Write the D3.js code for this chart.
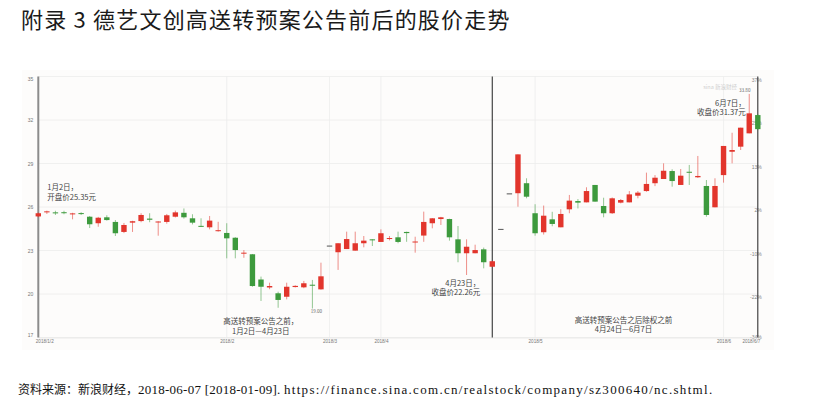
<!DOCTYPE html>
<html>
<head>
<meta charset="utf-8">
<script src="https://cdn.jsdelivr.net/npm/d3@7"></script>
<style>
  body { margin: 0; background: #fff; }
  svg { display: block; }
</style>
</head>
<body>
<svg width="829" height="418"></svg>
<script>
// daily candles, 2018/1/2 - 2018/6/7 (trading days only)
const open = [25.35,25.64,25.63,25.64,25.52,25.58,25.33,24.88,25.29,24.97,
  24.28,24.92,25.03,25.20,24.96,24.97,25.33,25.60,25.22,24.70,
  24.60,24.36,24.21,23.88,22.80,22.74,21.00,20.45,20.05,19.81,
  20.48,20.46,20.64,20.32,23.34,22.88,23.10,22.99,23.50,23.77,
  23.59,23.82,23.91,24.28,23.58,24.03,24.88,25.17,25.17,23.77,
  22.81,22.81,23.08,21.88,24.49,26.94,26.95,27.64,25.57,24.26,
  25.15,24.60,25.84,26.41,26.32,27.52,26.07,25.57,26.30,26.32,
  26.78,27.10,27.64,27.93,28.48,27.52,28.43,28.05,27.45,25.98,
  28.20,29.81,30.16,31.08,32.34];
const close = [25.57,25.70,25.58,25.60,25.56,25.53,24.81,25.26,25.10,24.19,
  24.76,25.02,25.45,25.12,25.00,25.43,25.63,25.29,24.92,24.64,
  25.06,24.40,23.84,23.03,22.85,20.55,20.50,20.55,19.59,20.50,
  20.56,20.74,20.57,21.22,23.34,23.50,23.79,23.50,23.68,23.70,
  24.19,23.86,23.59,24.20,23.62,24.97,25.22,25.29,23.91,22.81,
  23.26,23.03,22.19,22.26,24.49,26.94,29.63,26.71,24.19,25.40,
  24.83,25.52,26.44,26.30,27.10,26.37,25.57,26.60,26.48,26.87,
  26.99,27.59,28.02,28.50,27.79,28.16,28.37,28.14,25.45,27.45,
  30.21,29.93,31.47,32.46,31.37];
const high = [25.62,25.75,25.74,25.74,25.60,25.64,25.38,25.32,25.43,25.10,
  24.90,25.05,25.57,25.57,25.02,25.52,25.75,25.90,25.50,25.22,
  25.38,24.98,24.88,23.92,23.03,22.76,21.20,20.78,20.16,20.78,
  20.60,20.90,20.97,22.16,23.34,23.50,24.30,24.30,24.00,23.78,
  24.46,24.00,24.30,24.30,23.95,25.68,25.24,25.32,25.19,24.69,
  23.77,23.40,23.20,22.30,24.49,26.94,29.63,27.98,26.19,26.10,
  25.67,25.85,26.83,26.55,27.36,27.52,26.64,26.66,26.55,27.10,
  27.10,28.37,28.20,29.01,28.60,28.62,28.90,29.52,27.86,27.98,
  30.21,31.12,31.47,33.80,32.40];
const low = [25.30,25.52,25.45,25.50,25.15,25.45,24.55,24.64,25.06,24.00,
  24.20,24.28,24.95,24.95,24.02,24.85,25.28,25.20,24.80,24.62,
  24.46,24.30,22.46,22.46,22.50,20.50,19.52,20.33,19.05,19.63,
  20.45,20.40,19.00,20.30,23.34,21.66,23.10,22.99,23.22,23.31,
  23.59,23.70,23.50,23.60,22.85,23.60,24.53,24.76,23.68,22.19,
  21.31,22.81,21.77,21.85,24.49,26.94,26.02,26.60,24.02,24.10,
  24.67,24.60,25.57,25.90,26.32,26.37,25.29,25.52,26.25,26.32,
  26.60,27.05,27.44,27.93,27.40,27.52,27.52,28.00,25.33,25.98,
  27.68,29.01,29.93,31.08,31.30];

// axis ticks
const priceTicks = [17, 20, 23, 26, 29, 32, 35];
const pctLabels = ["-34%", "-22%", "-10%", "2%", "13%", "25%", "37%"];
const dateTickIdx = [0, 22, 34, 40, 58, 80, 84];
const dateTickLabels = ["2018/1/2", "2018/2", "2018/3", "2018/4", "2018/5", "2018/6", "2018/6/7"];
const splitIdx = 53; // 4月23日, last day before the announcement

const candles = open.map((o, i) => ({ i, o, c: close[i], h: high[i], l: low[i] }));

const svg = d3.select("svg");
const cjk = "'Noto Sans CJK SC', 'Noto Sans', sans-serif";

// --- title ---
svg.append("text")
  .attr("x", 21).attr("y", 28)
  .style("font-family", cjk)
  .style("font-size", "22px")
  .style("letter-spacing", "1.2px")
  .style("fill", "#1a1a1a")
  .text("附录 3 德艺文创高送转预案公告前后的股价走势");

// --- scales ---
const x = d3.scaleLinear().domain([0, candles.length - 1]).range([38.3, 757.8]);
const y = d3.scaleLinear().domain([17, 35]).range([337.5, 76.5]);
const left = x(0), right = x(candles.length - 1);

// chart background
svg.append("rect")
  .attr("x", 22).attr("y", 70).attr("width", 752).attr("height", 280)
  .attr("fill", "#fdfcfb");

// --- grid ---
svg.append("g").selectAll("line").data(priceTicks).join("line")
  .attr("x1", left).attr("x2", right)
  .attr("y1", d => y(d)).attr("y2", d => y(d))
  .attr("stroke", "#ececec").attr("stroke-width", 0.8);

svg.append("g").selectAll("line").data(dateTickIdx.slice(1, -1)).join("line")
  .attr("x1", d => x(d)).attr("x2", d => x(d))
  .attr("y1", y(35)).attr("y2", y(17))
  .attr("stroke", "#ececec").attr("stroke-width", 0.8);

// --- axes ---
const axisFont = "'Liberation Sans', Arial, sans-serif";

const yLeft = svg.append("g")
  .attr("transform", `translate(${left - 5},0)`)
  .call(d3.axisLeft(y).tickValues(priceTicks).tickSize(0).tickPadding(0));
yLeft.select(".domain").remove();
yLeft.selectAll("text")
  .style("font-family", axisFont).style("font-size", "5px").style("fill", "#777")
  .attr("dy", d => d === 35 ? "0.85em" : d === 17 ? "-0.3em" : "0.32em");

const yRight = svg.append("g")
  .attr("transform", `translate(${right + 4},0)`)
  .call(d3.axisLeft(y).tickValues(priceTicks).tickSize(0).tickPadding(0)
    .tickFormat((d, i) => pctLabels[i]));
yRight.select(".domain").remove();
yRight.selectAll("text")
  .style("font-family", axisFont).style("font-size", "5px").style("fill", "#888")
  .attr("dy", d => d === 17 ? "0.15em" : "0.9em");

const xAxis = svg.append("g")
  .attr("transform", `translate(0,${y(17)})`)
  .call(d3.axisBottom(x).tickValues(dateTickIdx).tickSize(0).tickPadding(2.5)
    .tickFormat((d, i) => dateTickLabels[i]));
xAxis.select(".domain").attr("stroke", "#e6e6e6").attr("stroke-width", 0.8);
xAxis.selectAll("text")
  .style("font-family", axisFont).style("font-size", "4.6px").style("fill", "#777")
  .attr("text-anchor", d => d === 0 ? "start" : d === candles.length - 1 ? "end" : "middle")
  .attr("dx", d => d === 0 ? -3 : d === candles.length - 1 ? 2 : 0);

// frame lines: left axis, split at 4月23日, right axis
svg.append("line")
  .attr("x1", left).attr("x2", left).attr("y1", y(35)).attr("y2", y(17))
  .attr("stroke", "#8c8c8c").attr("stroke-width", 2);
svg.append("line")
  .attr("x1", x(splitIdx)).attr("x2", x(splitIdx)).attr("y1", y(35)).attr("y2", y(17))
  .attr("stroke", "#333").attr("stroke-width", 1.1);
svg.append("line")
  .attr("x1", right).attr("x2", right).attr("y1", y(35)).attr("y2", y(17))
  .attr("stroke", "#333").attr("stroke-width", 1.1);

// --- candles ---
const bodyW = 5.4;
const colorOf = d => d.c > d.o ? "#e2352c" : d.c < d.o ? "#3d9a3d" : "#555";

const g = svg.append("g");
g.selectAll("line.wick").data(candles.filter(d => d.h > d.l)).join("line")
  .attr("class", "wick")
  .attr("x1", d => x(d.i)).attr("x2", d => x(d.i))
  .attr("y1", d => y(d.h)).attr("y2", d => y(d.l))
  .attr("stroke", colorOf).attr("stroke-opacity", 0.55).attr("stroke-width", 1);

g.selectAll("rect.body").data(candles).join("rect")
  .attr("class", "body")
  .attr("x", d => x(d.i) - bodyW / 2)
  .attr("width", bodyW)
  .attr("y", d => y(Math.max(d.o, d.c)))
  .attr("height", d => Math.max(1, Math.abs(y(d.o) - y(d.c))))
  .attr("fill", colorOf);

// --- annotations ---
const note = (tx, ty, lines, anchor, size, color, lh = 1.3) => {
  const t = svg.append("text")
    .attr("x", tx).attr("y", ty)
    .attr("text-anchor", anchor)
    .style("font-family", cjk)
    .style("font-size", size + "px")
    .style("fill", color);
  lines.forEach((s, k) => t.append("tspan").attr("x", tx).attr("dy", k ? size * lh : 0).text(s));
};

note(x(0) + 9, y(open[0]) - 26, ["1月2日，", "开盘价25.35元"], "start", 7.5, "#444");
note(x(splitIdx) - 12, y(close[splitIdx]) + 24.5, ["4月23日，", "收盘价22.26元"], "end", 7.5, "#444");
note(x(candles.length - 1) - 12, y(close[candles.length - 1]) - 23.5, ["6月7日，", "收盘价31.37元"], "end", 7.5, "#444");
note((x(0) + x(splitIdx)) / 2 - 4.5, 324.3, ["高送转预案公告之前，", "1月2日—4月23日"], "middle", 7.5, "#444");
note((x(splitIdx) + x(candles.length - 1)) / 2 - 1.5, 322.6, ["高送转预案公告之后除权之前", "4月24日—6月7日"], "middle", 7.5, "#444");

// high / low marks
note(x(83) - 4.5, y(high[83]) - 1.5, ["33.80"], "middle", 4.6, "#666");
note(x(32) + 4, y(low[32]) + 4.8, ["19.00"], "middle", 4.6, "#666");

// watermark
note(737, 89, ["sina 新浪财经"], "end", 5.5, "#cfcfcf");

// --- source ---
const src = svg.append("text")
  .attr("x", 18).attr("y", 394)
  .style("font-family", "'Liberation Serif', 'Noto Sans CJK SC', serif")
  .style("font-size", "12px")
  .style("fill", "#111");
src.append("tspan").text("资料来源：新浪财经，");
src.append("tspan").style("font-size", "13px").style("letter-spacing", "0.25px")
  .text("2018-06-07 [2018-01-09]. ");
src.append("tspan").style("font-size", "13px").style("letter-spacing", "1.3px")
  .text("https://finance.sina.com.cn/realstock/company/sz300640/nc.shtml.");
</script>
</body>
</html>
